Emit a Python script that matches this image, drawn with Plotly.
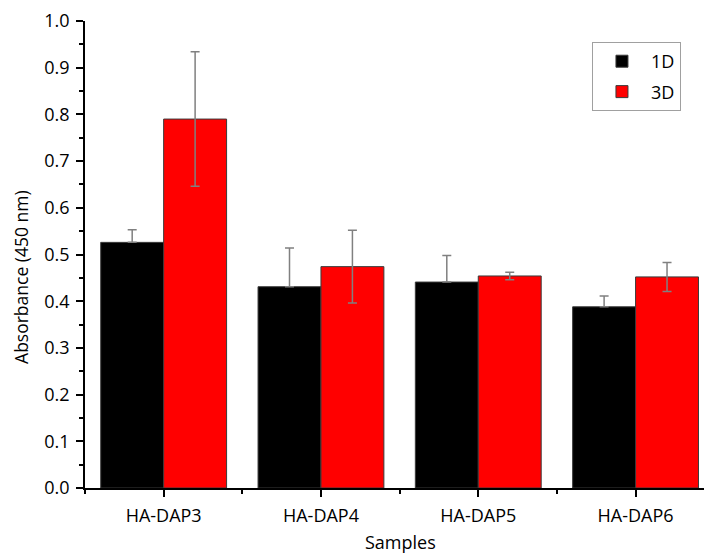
import plotly.graph_objects as go

categories = ["HA-DAP3", "HA-DAP4", "HA-DAP5", "HA-DAP6"]
values_1d = [0.526, 0.431, 0.441, 0.388]
err_1d = [0.027, 0.083, 0.057, 0.023]
values_3d = [0.790, 0.474, 0.454, 0.452]
err_3d = [0.144, 0.078, 0.008, 0.031]
y_ticks = [0.0, 0.1, 0.2, 0.3, 0.4, 0.5, 0.6, 0.7, 0.8, 0.9, 1.0]

FONT = "Open Sans, Noto Sans, sans-serif"
xpos = list(range(len(categories)))

fig = go.Figure()
fig.add_trace(go.Bar(
    x=xpos, y=values_1d, name="1D", legendgroup="g1",
    marker=dict(color="#000000", line=dict(color="#3a3a3a", width=1)),
    error_y=dict(type="data", symmetric=False, array=err_1d,
                 arrayminus=[0] * len(err_1d),
                 color="#808080", thickness=1.5, width=4.5),
))
fig.add_trace(go.Bar(
    x=xpos, y=values_3d, name="3D", legendgroup="g2",
    marker=dict(color="#ff0000", line=dict(color="#3a3a3a", width=1)),
    error_y=dict(type="data", array=err_3d,
                 color="#808080", thickness=1.5, width=4.5),
))

fig.update_layout(
    width=704, height=555,
    margin=dict(l=85, r=0, t=21, b=67, autoexpand=False),
    paper_bgcolor="white", plot_bgcolor="white",
    barmode="group", bargap=0.2, bargroupgap=0,
    font=dict(family=FONT, size=18, color="#000000"),
    showlegend=True,
    legend=dict(x=0.819, y=0.955, xanchor="left", yanchor="top",
                bordercolor="#a0a0a0", borderwidth=1, bgcolor="white",
                font=dict(family=FONT, size=18), itemwidth=48,
                traceorder="grouped", tracegroupgap=4),
    xaxis=dict(
        range=[-0.5, 3.435], tickmode="array", tickvals=xpos, ticktext=categories,
        showline=True, linecolor="#000000", linewidth=1.5,
        ticks="outside", ticklen=7, tickwidth=1.5, tickcolor="#000000",
        minor=dict(tick0=-0.5, dtick=1, ticks="outside", ticklen=4,
                   tickwidth=1.5, tickcolor="#000000"),
        showgrid=False, zeroline=False, ticklabelstandoff=4,
        tickfont=dict(family=FONT, size=18),
    ),
    yaxis=dict(
        range=[0, 1.0], tickmode="array", tickvals=y_ticks,
        tickformat=".1f",
        showline=True, linecolor="#000000", linewidth=1.5,
        ticks="outside", ticklen=7, tickwidth=1.5, tickcolor="#000000",
        minor=dict(dtick=0.05, ticks="outside", ticklen=4,
                   tickwidth=1.5, tickcolor="#000000"),
        showgrid=False, zeroline=False, ticklabelstandoff=3,
        tickfont=dict(family=FONT, size=18),
    ),
    annotations=[
        dict(text="Absorbance (450 nm)", xref="paper", yref="paper",
             x=-0.1026, y=0.453, xanchor="center", yanchor="middle",
             textangle=-90, showarrow=False,
             font=dict(family=FONT, size=17.5)),
        dict(text="Samples", xref="paper", yref="paper",
             x=0.509, y=-0.115, xanchor="center", yanchor="middle",
             showarrow=False, font=dict(family=FONT, size=18)),
    ],
)

fig.write_html(
    "out.html",
    config={"displayModeBar": False},
    post_script="document.body.style.margin='0px';document.body.style.overflow='hidden';",
)
